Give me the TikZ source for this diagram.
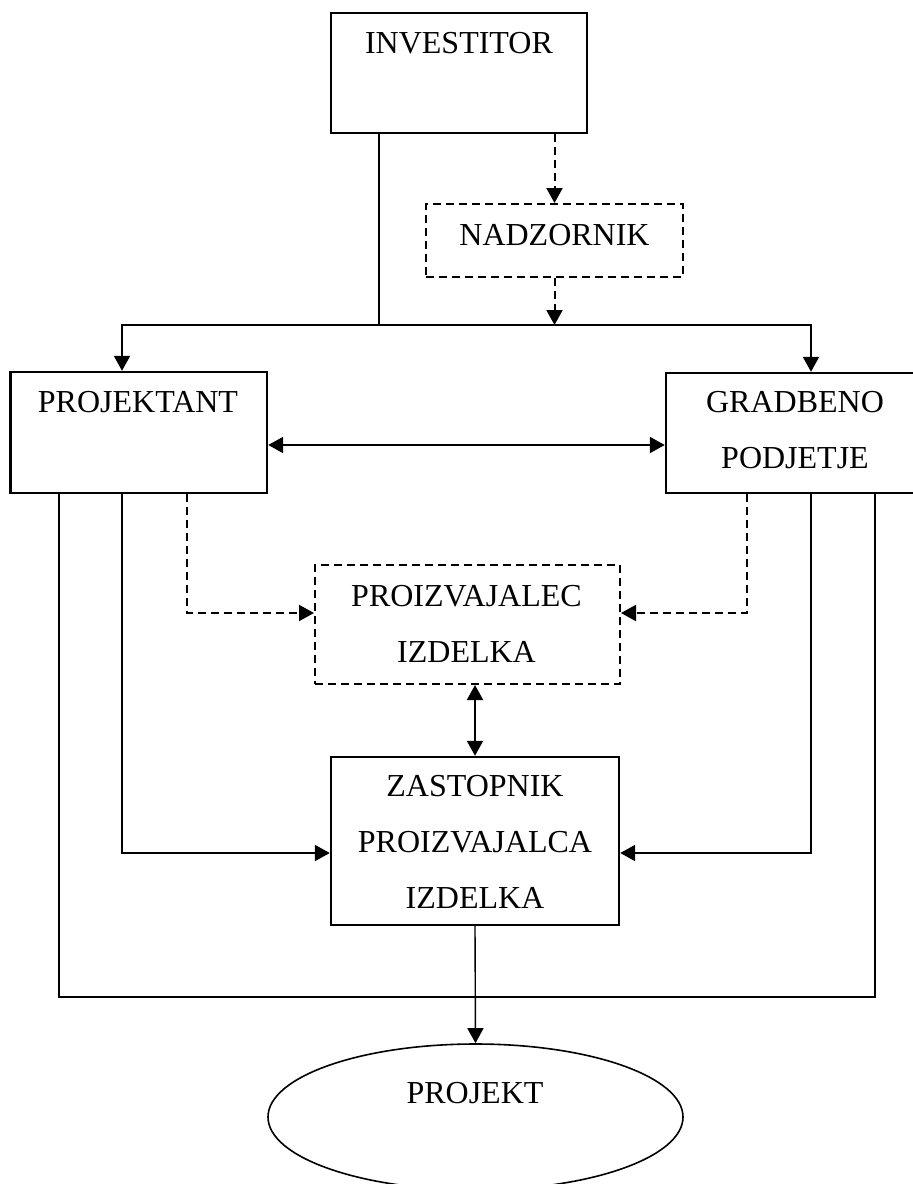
\documentclass[tikz,border=0pt]{standalone}
\usepackage{fontspec}
\setmainfont{Liberation Serif}
\usetikzlibrary{arrows.meta,shapes.geometric}
\begin{document}
\begin{tikzpicture}[x=1pt,y=-1pt,
  box/.style={draw,line width=2.4pt,rectangle,inner sep=0pt},
  dbox/.style={box,line width=2pt,dash pattern=on 8pt off 5pt},
  lbl/.style={inner sep=0pt,align=center,font=\fontsize{32}{56}\selectfont},
  conn/.style={line width=2pt},
  tip/.style={Triangle[length=15pt,width=16pt]},
  arr/.style={conn,-{Triangle[length=15pt,width=16pt]}},
  darr/.style={conn,{Triangle[length=15pt,width=16pt]}-{Triangle[length=15pt,width=16pt]}},
  dasharr/.style={arr,dash pattern=on 8pt off 5pt}]
\useasboundingbox (0,0) rectangle (913,1184);

% boxes
\node[box,minimum width=256pt,minimum height=120pt] (inv) at (459,73) {};
\node[dbox,minimum width=257pt,minimum height=73pt] (nad) at (554.5,240.5) {};
\node[box,minimum width=256.5pt,minimum height=121pt] (proj) at (138.75,432.5) {};
\node[box,minimum width=256pt,minimum height=120pt] (grad) at (794,433) {};
\node[dbox,minimum width=305pt,minimum height=119pt] (proiz) at (467.5,624.5) {};
\node[box,minimum width=288pt,minimum height=168pt] (zast) at (475,841) {};
\node[draw,ellipse,line width=1.6pt,inner sep=0pt,minimum width=415pt,minimum height=146pt] (projekt) at (475.5,1117) {};

% labels
\node[lbl] (tinv) at (459,43) {INVESTITOR};
\node[lbl] (tnad) at (554.5,235) {NADZORNIK};
\node[lbl] (tproj) at (138,402) {PROJEKTANT};
\node[lbl] (tgrad) at (795,430) {GRADBENO\\PODJETJE};
\node[lbl] (tproiz) at (466.5,623.5) {PROIZVAJALEC\\IZDELKA};
\node[lbl] (tzast) at (475,842) {ZASTOPNIK\\PROIZVAJALCA\\IZDELKA};
\node[lbl] (tprojekt) at (475,1093) {PROJEKT};

% helper coordinates for columns and rows
\coordinate (split) at (379,325);
\coordinate (cL1) at (59,0);
\coordinate (cL2) at (122,0);
\coordinate (cL3) at (187,0);
\coordinate (cR3) at (747,0);
\coordinate (cR2) at (811,0);
\coordinate (cR1) at (875,0);
\coordinate (cM) at (475,0);
\coordinate (rPG) at (0,445);
\coordinate (rPI) at (0,613);
\coordinate (rZ) at (0,853);
\coordinate (rB) at (0,997);

% investitor to projektant and gradbeno podjetje
\draw[conn] (inv.south -| split) -- (split);
\draw[arr] (split) -| (proj.north -| cL2);
\draw[arr] (split) -| (grad.north -| cR2);

% supervision path
\draw[dasharr] (inv.south -| nad.north) -- (nad.north);
\draw[dasharr] (nad.south) -- (nad.south |- split);

% projektant <-> gradbeno podjetje
\draw[darr] (proj.east |- rPG) -- (grad.west |- rPG);

% dashed links to proizvajalec
\draw[dasharr] (proj.south -| cL3) |- (proiz.west |- rPI);
\draw[dasharr] (grad.south -| cR3) |- (proiz.east |- rPI);

% proizvajalec <-> zastopnik
\draw[darr] (proiz.south -| cM) -- (zast.north);

% links to zastopnik
\draw[arr] (proj.south -| cL2) |- (zast.west |- rZ);
\draw[arr] (grad.south -| cR2) |- (zast.east |- rZ);

% outer loop
\draw[conn] (proj.south -| cL1) |- (cR1 |- rB) -- (grad.south -| cR1);

% zastopnik to projekt
\draw[line width=1.4pt,-{Triangle[length=15pt,width=16pt]}] (zast.south) -- (projekt.north);
\end{tikzpicture}
\end{document}
